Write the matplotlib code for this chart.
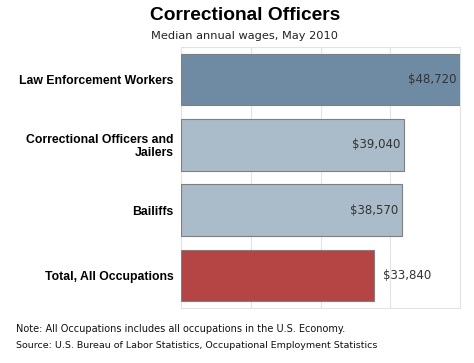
import matplotlib
matplotlib.use("Agg")
import matplotlib.pyplot as plt

categories = ["Law Enforcement Workers", "Correctional Officers and\nJailers", "Bailiffs", "Total, All Occupations"]
wages = [48720, 39040, 38570, 33840]
value_labels = ["$48,720", "$39,040", "$38,570", "$33,840"]
colors = ["#6F8BA3", "#AABCC9", "#AABCC9", "#B54445"]
inside = [True, True, True, False]

fig = plt.figure(figsize=(4.74, 3.63), dpi=100)
W, H = 474, 363
left, right, top, bottom = 181, 460, 47, 308
ax = fig.add_axes([left / W, 1 - bottom / H, (right - left) / W, (bottom - top) / H])

xmax = 48800
y = list(range(len(categories)))
ax.barh(y, wages, height=0.79, color=colors, edgecolor="#7F7F7F", linewidth=0.8, zorder=3)
ax.set_xlim(0, xmax)
ax.set_ylim(3.5, -0.5)
ax.set_xticks([xmax * i / 4 for i in range(5)])
ax.xaxis.grid(True, color="#E3E3E3", linewidth=0.8, zorder=0)
ax.tick_params(axis="x", length=0, labelbottom=False)
ax.tick_params(axis="y", length=0, pad=5.5)
ax.set_yticks(y)
ax.set_yticklabels(categories, fontsize=8.8, fontweight="bold", family="Liberation Sans",
                   linespacing=1.05)
for sp in ax.spines.values():
    sp.set_color("#E3E3E3")
    sp.set_linewidth(0.8)

for yi, v, lab, ins in zip(y, wages, value_labels, inside):
    if ins:
        ax.text(v - xmax * 0.012, yi, lab, ha="right", va="center", fontsize=8.5, color="#333333", zorder=4)
    else:
        ax.text(v + xmax * 0.03, yi, lab, ha="left", va="center", fontsize=8.5, color="#333333", zorder=4)

fig.text(245 / W, 1 - 16 / H, "Correctional Officers", ha="center", va="center",
         fontsize=13.8, fontweight="bold", family="Liberation Sans")
fig.text(244 / W, 1 - 36 / H, "Median annual wages, May 2010", ha="center", va="center",
         fontsize=8.2, color="#222222")
fig.text(16 / W, 1 - 329 / H, "Note: All Occupations includes all occupations in the U.S. Economy.",
         ha="left", va="center", fontsize=7, color="#111111")
fig.text(16 / W, 1 - 345 / H, "Source: U.S. Bureau of Labor Statistics, Occupational Employment Statistics",
         ha="left", va="center", fontsize=6.8, color="#111111")

fig.savefig("out.png", dpi=100)
